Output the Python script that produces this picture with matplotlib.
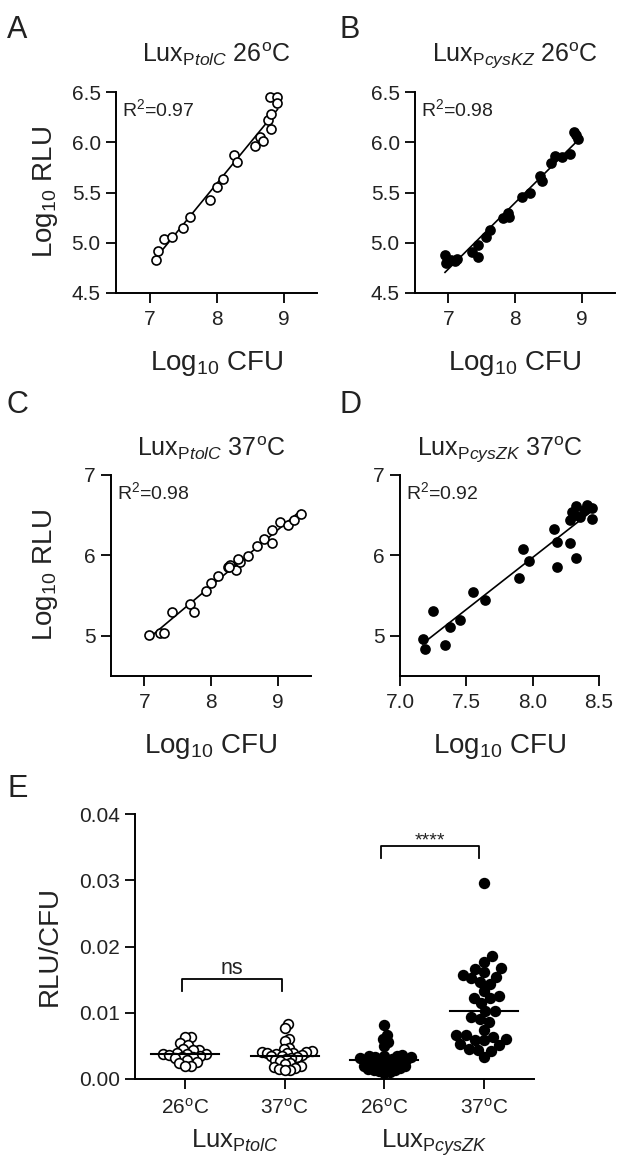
import numpy as np
import matplotlib
matplotlib.use("Agg")
import matplotlib.pyplot as plt
from matplotlib.transforms import blended_transform_factory

plt.rcParams['font.family'] = ['Liberation Sans', 'DejaVu Sans']
plt.rcParams['mathtext.fontset'] = 'custom'
plt.rcParams['mathtext.rm'] = 'Liberation Sans'
plt.rcParams['mathtext.it'] = 'Liberation Sans:italic'
plt.rcParams['mathtext.bf'] = 'Liberation Sans:bold'
plt.rcParams['text.color'] = '#222222'
plt.rcParams['axes.labelcolor'] = '#222222'
plt.rcParams['xtick.color'] = 'black'
plt.rcParams['ytick.color'] = 'black'
plt.rcParams['xtick.labelcolor'] = '#222222'
plt.rcParams['ytick.labelcolor'] = '#222222'

# ---- data ----
# A: Lux PtolC 26C
a_x = [7.10, 7.12, 7.22, 7.33, 7.50, 7.61, 7.90, 8.01, 8.09, 8.26, 8.31, 8.58,
       8.65, 8.70, 8.82, 8.77, 8.82, 8.80, 8.91, 8.90]
a_y = [4.83, 4.92, 5.04, 5.06, 5.15, 5.26, 5.43, 5.55, 5.63, 5.87, 5.80, 5.96,
       6.05, 6.01, 6.13, 6.22, 6.28, 6.45, 6.45, 6.39]
# B: Lux PcysKZ 26C
b_x = [6.95, 6.97, 7.04, 7.10, 7.13, 7.36, 7.45, 7.44, 7.56, 7.63, 7.82, 7.89,
       7.91, 8.10, 8.23, 8.37, 8.40, 8.54, 8.60, 8.70, 8.83, 8.89, 8.92, 8.95]
b_y = [4.88, 4.80, 4.83, 4.82, 4.84, 4.91, 4.98, 4.86, 5.06, 5.13, 5.25, 5.30,
       5.26, 5.46, 5.50, 5.66, 5.61, 5.79, 5.86, 5.85, 5.88, 6.10, 6.07, 6.03]
# C: Lux PtolC 37C
c_x = [7.07, 7.23, 7.29, 7.41, 7.68, 7.74, 7.93, 8.00, 8.11, 8.25, 8.29, 8.37,
       8.43, 8.27, 8.41, 8.55, 8.69, 8.80, 8.91, 8.92, 9.04, 9.16, 9.25, 9.35]
c_y = [5.01, 5.03, 5.04, 5.30, 5.39, 5.30, 5.56, 5.66, 5.74, 5.85, 5.88, 5.82,
       5.92, 5.86, 5.95, 5.99, 6.12, 6.21, 6.15, 6.32, 6.42, 6.38, 6.44, 6.52]
# D: Lux PcysZK 37C
d_x = [7.17, 7.19, 7.25, 7.34, 7.38, 7.45, 7.55, 7.64, 7.90, 7.97, 7.93, 8.16,
       8.18, 8.18, 8.28, 8.33, 8.28, 8.30, 8.33, 8.36, 8.39, 8.41, 8.45, 8.45, 8.32]
d_y = [4.96, 4.83, 5.31, 4.88, 5.11, 5.20, 5.55, 5.45, 5.72, 5.93, 6.08, 6.33,
       6.17, 5.86, 6.15, 5.97, 6.44, 6.54, 6.61, 6.48, 6.57, 6.63, 6.59, 6.45, 6.50]
r2_labels = ['0.97', '0.98', '0.98', '0.92']

# E: RLU/CFU per group
e_tolc_26 = [0.0064, 0.0064, 0.0054, 0.0051, 0.0045, 0.0044, 0.0044, 0.0040,
             0.0038, 0.0037, 0.0037, 0.0036, 0.0034, 0.0033, 0.0033, 0.0031,
             0.0028, 0.0025, 0.0024, 0.0020, 0.0019]
e_tolc_37 = [0.0083, 0.0077, 0.0061, 0.0057, 0.0047, 0.0046, 0.0042, 0.0041,
             0.0041, 0.0040, 0.0040, 0.0039, 0.0037, 0.0036, 0.0035, 0.0034,
             0.0033, 0.0032, 0.0030, 0.0028, 0.0027, 0.0024, 0.0022, 0.0019,
             0.0018, 0.0016, 0.0015, 0.0014, 0.0013]
e_cys_26 = [0.0082, 0.0066, 0.0060, 0.0056, 0.0050, 0.0036, 0.0035, 0.0034,
            0.0034, 0.0033, 0.0033, 0.0031, 0.0030, 0.0029, 0.0029, 0.0028,
            0.0028, 0.0026, 0.0025, 0.0024, 0.0022, 0.0022, 0.0021, 0.0019,
            0.0019, 0.0017, 0.0016, 0.0015, 0.0014, 0.0013, 0.0012, 0.0011, 0.0009]
e_cys_37 = [0.0296, 0.0186, 0.0177, 0.0167, 0.0166, 0.0161, 0.0157, 0.0154,
            0.0152, 0.0147, 0.0144, 0.0133, 0.0125, 0.0123, 0.0122, 0.0115,
            0.0102, 0.0102, 0.0093, 0.0090, 0.0086, 0.0074, 0.0066, 0.0066,
            0.0064, 0.0060, 0.0059, 0.0059, 0.0053, 0.0051, 0.0046, 0.0044,
            0.0043, 0.0033]
e_groups = [e_tolc_26, e_tolc_37, e_cys_26, e_cys_37]
e_open = [True, True, False, False]
e_ticklabels = [r'26$^{\mathrm{o}}$C', r'37$^{\mathrm{o}}$C',
                r'26$^{\mathrm{o}}$C', r'37$^{\mathrm{o}}$C']

W, H = 622, 1167
fig = plt.figure(figsize=(W / 100, H / 100), dpi=100)


def add_axes_px(left, top, right, bottom):
    return fig.add_axes([left / W, 1 - bottom / H, (right - left) / W, (bottom - top) / H])


def style(ax):
    for s in ['top', 'right']:
        ax.spines[s].set_visible(False)
    for s in ['left', 'bottom']:
        ax.spines[s].set_linewidth(1.4)
    ax.tick_params(direction='out', length=7.5, width=1.3, labelsize=15)
    ax.tick_params(axis='x', pad=5)
    ax.tick_params(axis='y', pad=3.5)


def scatter_panel(ax, x, y, filled, title, r2, title_pad, ylab_x):
    style(ax)
    slope, icpt = np.polyfit(x, y, 1)
    xf = np.array([min(x), max(x)])
    ax.plot(xf, slope * xf + icpt, color='black', lw=1.2, zorder=2)
    ax.plot(x, y, 'o', ms=6.5, mec='black', mew=1.2,
            mfc='black' if filled else 'white', zorder=3, clip_on=False)
    ax.set_title(title, fontsize=18, pad=title_pad)
    ax.text(0.03, 0.97, r'R$^2$=' + r2, transform=ax.transAxes, fontsize=14,
            ha='left', va='top')
    ax.set_xlabel(r'Log$_{10}$ CFU', fontsize=20)
    ax.set_ylabel(r'Log$_{10}$ RLU', fontsize=20)
    ax.xaxis.set_label_coords(0.5, -0.28)
    ax.yaxis.set_label_coords(ylab_x, 0.5)


t_tolc = r'Lux$_{\mathrm{P}\mathit{tolC}}$ '
t_cyskz = r'Lux$_{\mathrm{P}\mathit{cysKZ}}$ '
t_cyszk = r'Lux$_{\mathrm{P}\mathit{cysZK}}$ '
deg26 = r'26$^{\mathrm{o}}$C'
deg37 = r'37$^{\mathrm{o}}$C'

# A
axA = add_axes_px(116, 92, 317, 293)
scatter_panel(axA, a_x, a_y, False, t_tolc + deg26, r2_labels[0], 22, -0.28)
axA.set_xlim(6.5, 9.5)
axA.set_ylim(4.5, 6.5)
axA.set_xticks([7, 8, 9])
axA.set_yticks([4.5, 5.0, 5.5, 6.0, 6.5])
axA.set_yticklabels(['4.5', '5.0', '5.5', '6.0', '6.5'])

# B
axB = add_axes_px(415, 92, 615, 293)
scatter_panel(axB, b_x, b_y, True, t_cyskz + deg26, r2_labels[1], 22, -0.28)
axB.set_xlim(6.5, 9.5)
axB.set_ylim(4.5, 6.5)
axB.set_xticks([7, 8, 9])
axB.set_yticks([4.5, 5.0, 5.5, 6.0, 6.5])
axB.set_yticklabels(['4.5', '5.0', '5.5', '6.0', '6.5'])
axB.set_ylabel('')

# C
axC = add_axes_px(111, 475, 311, 676)
scatter_panel(axC, c_x, c_y, False, t_tolc + deg37, r2_labels[2], 14, -0.255)
axC.set_xlim(6.5, 9.5)
axC.set_ylim(4.5, 7)
axC.set_xticks([7, 8, 9])
axC.set_yticks([5, 6, 7])

# D
axD = add_axes_px(400, 475, 599, 676)
scatter_panel(axD, d_x, d_y, True, t_cyszk + deg37, r2_labels[3], 14, -0.255)
axD.set_xlim(7.0, 8.5)
axD.set_ylim(4.5, 7)
axD.set_xticks([7.0, 7.5, 8.0, 8.5])
axD.set_xticklabels(['7.0', '7.5', '8.0', '8.5'])
axD.set_yticks([5, 6, 7])
axD.set_ylabel('')

# E
axE = add_axes_px(135, 814, 534, 1079)
style(axE)
axE.set_xlim(0.5, 4.5)
axE.set_ylim(0, 0.04)
axE.set_yticks([0, 0.01, 0.02, 0.03, 0.04])
axE.set_yticklabels(['0.00', '0.01', '0.02', '0.03', '0.04'])
axE.set_xticks([1, 2, 3, 4])
axE.set_xticklabels(e_ticklabels)
axE.tick_params(axis='x', labelsize=15, pad=6)
axE.set_ylabel('RLU/CFU', fontsize=20)
axE.yaxis.set_label_coords(-0.18, 0.5)

pos = axE.get_position()
px_x = pos.width * W / 4.0
px_y = pos.height * H / 0.04


def swarm(vals, d):
    ys = np.asarray(vals) * px_y
    order = np.argsort(ys)
    xs = np.zeros(len(ys))
    done = []
    for i in order:
        near = [j for j in done if abs(ys[j] - ys[i]) < d]
        cands = [0.0]
        for j in near:
            dx = np.sqrt(d ** 2 - (ys[j] - ys[i]) ** 2)
            cands += [xs[j] + dx, xs[j] - dx]
        cands.sort(key=abs)
        for c in cands:
            if all((c - xs[j]) ** 2 + (ys[j] - ys[i]) ** 2 >= d ** 2 - 1e-6 for j in near):
                xs[i] = c
                break
        done.append(i)
    return xs


def fit_swarm(vals, half_width_px):
    # pick the spacing whose swarm is widest while staying inside the bar width
    best, best_w = swarm(vals, 3), 0
    for d in np.arange(24, 3, -0.5):
        xs = swarm(vals, d)
        w = np.abs(xs).max()
        if best_w < w <= half_width_px:
            best, best_w = xs, w
    return best / px_x


for k, vals in enumerate(e_groups):
    xc = k + 1
    offs = fit_swarm(vals, 0.30 * px_x)
    axE.plot(xc + offs, vals, 'o', ms=7, mec='black', mew=1.2,
             mfc='white' if e_open[k] else 'black', zorder=3, clip_on=False)
    med = np.median(vals)
    axE.plot([xc - 0.34, xc + 0.34], [med, med], color='black', lw=1.5, zorder=4)

# significance brackets
axE.plot([0.97, 0.97, 1.97, 1.97], [0.0133, 0.0151, 0.0151, 0.0133], color='black', lw=1.3)
axE.text(1.47, 0.0159, 'ns', ha='center', va='baseline', fontsize=15.5)
axE.plot([2.97, 2.97, 3.95, 3.95], [0.0334, 0.0352, 0.0352, 0.0334], color='black', lw=1.3)
axE.text(3.46, 0.0352, '****', ha='center', va='baseline', fontsize=14)

tr = blended_transform_factory(axE.transData, axE.transAxes)
axE.text(1.5, -0.26, r'Lux$_{\mathrm{P}\mathit{tolC}}$', transform=tr, ha='center',
         va='baseline', fontsize=18.5)
axE.text(3.5, -0.26, r'Lux$_{\mathrm{P}\mathit{cysZK}}$', transform=tr, ha='center',
         va='baseline', fontsize=18.5)

# panel letters
for letter, (lx, ly) in zip('ABCDE', [(7, 38), (339, 38), (7, 413), (339, 413), (7, 797)]):
    fig.text(lx / W, 1 - ly / H, letter, fontsize=22, ha='left', va='baseline')

fig.savefig('out.png', dpi=100)
